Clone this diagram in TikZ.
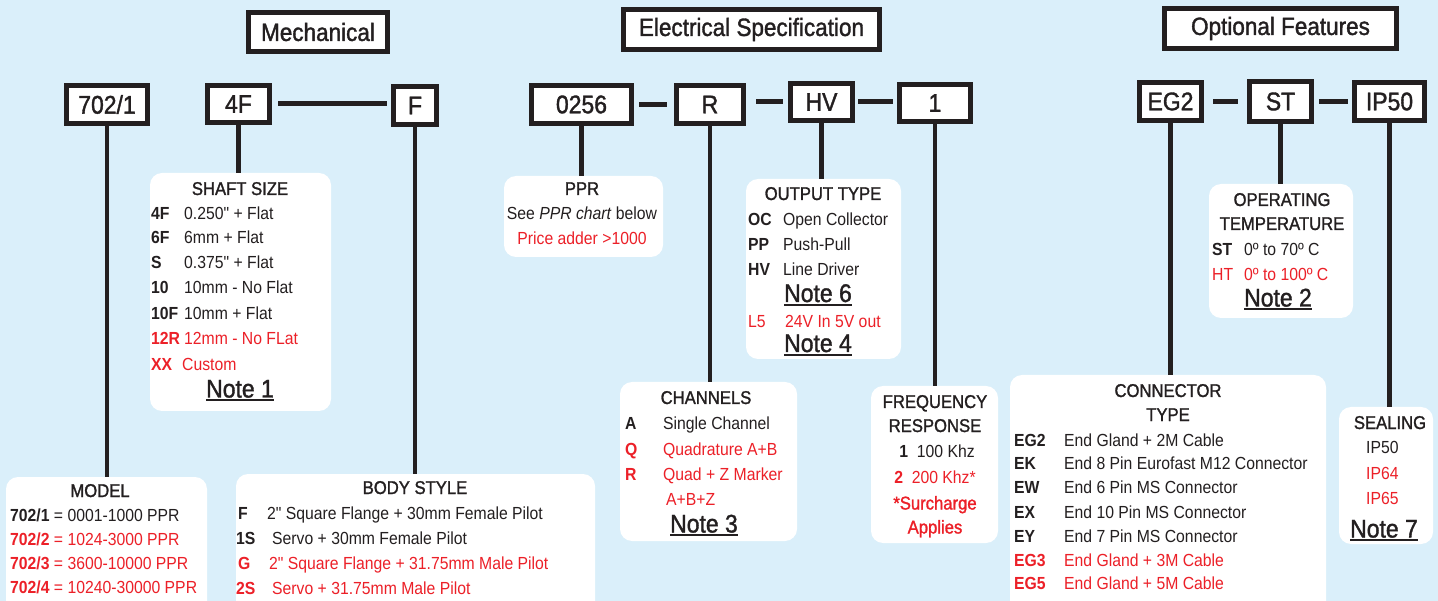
\documentclass[tikz,border=0pt]{standalone}
\usepackage{fontspec}
\setmainfont{Liberation Sans}[FakeStretch=0.9, Ligatures=TeXOff]
\newfontfamily\titlefam{Liberation Sans}[FakeStretch=0.9, Ligatures=TeXOff, RawFeature={embolden=1.4}]
\definecolor{bg}{RGB}{218,239,250}
\definecolor{ink}{RGB}{35,31,32}
\definecolor{rd}{RGB}{236,32,40}
\newcommand\noteul[1]{\setbox0=\hbox{#1}\rlap{\raisebox{-3.6pt}{\rule{\wd0}{1.8pt}}}\box0}
\tikzset{
 cbox/.style={draw=ink, line width=5pt, fill=white, inner sep=0pt, outer sep=2.5pt, text=ink, font=\fontsize{25.5}{28}\selectfont\titlefam},
 hbox/.style={cbox, font=\fontsize{25}{28}\selectfont\titlefam},
 wbox/.style={fill=white, rounded corners=12pt, inner sep=0pt, outer sep=0pt},
 stem/.style={draw=ink, line width=4.5pt},
 joiner/.style={draw=ink, line width=5pt},
 ttl/.style={inner sep=0pt, text=ink, font=\fontsize{18.5}{21}\selectfont\titlefam, anchor=base},
 codetxt/.style={inner sep=0pt, font=\fontsize{17.5}{20}\selectfont\bfseries, anchor=base west},
 desctxt/.style={inner sep=0pt, font=\fontsize{17.5}{20}\selectfont, anchor=base west},
 ctrtxt/.style={inner sep=0pt, font=\fontsize{17.5}{20}\selectfont, anchor=base},
 notetxt/.style={inner sep=0pt, text=ink, font=\fontsize{25.5}{28}\selectfont\titlefam, anchor=base},
}
% name, xcode, xdesc, baseline, colour, code, description
\newcommand\crow[7]{%
 \node[codetxt, text=#5] (#1c) at (#2,#4) {#6};
 \node[desctxt, text=#5] (#1d) at (#3,#4) {#7};}
\begin{document}
\begin{tikzpicture}[x=1pt,y=-1pt]
\useasboundingbox (0,0) rectangle (1438,601);
\clip (0,0) rectangle (1438,601);
\fill[bg] (0,0) rectangle (1438,601);

% section headers
\node[hbox, minimum width=139, minimum height=39] (hmech) at (318,32) {Mechanical};
\node[hbox, minimum width=256, minimum height=40] (helec) at (751.5,29.5) {Electrical Specification};
\node[hbox, minimum width=232, minimum height=40] (hopt) at (1280.5,28.5) {Optional Features};

% code boxes
\node[cbox, minimum width=81, minimum height=38] (m702) at (107,104.5) {702/1};
\node[cbox, minimum width=62, minimum height=37] (b4F) at (238.5,104) {4F};
\node[cbox, minimum width=43, minimum height=38] (bF) at (415,105.5) {F};
\node[cbox, minimum width=100, minimum height=38] (b0256) at (581.5,104.5) {0256};
\node[cbox, minimum width=67, minimum height=38] (bR) at (710,104.5) {R};
\node[cbox, minimum width=62, minimum height=37] (bHV) at (821.5,102) {HV};
\node[cbox, minimum width=71, minimum height=37] (b1) at (935,103) {1};
\node[cbox, minimum width=62, minimum height=38] (bEG2) at (1170.5,101.5) {EG2};
\node[cbox, minimum width=62, minimum height=40] (bST) at (1280.5,101.5) {ST};
\node[cbox, minimum width=70, minimum height=38] (bIP) at (1389.5,101.5) {IP50};

% joiners (horizontal)
\draw[joiner, shorten <=6pt, shorten >=4pt] (b4F.east) -- (b4F.east -| bF.west);
\draw[joiner, shorten <=5pt, shorten >=7pt] (b0256.east) -- (b0256.east -| bR.west);
\draw[joiner, shorten <=10pt, shorten >=5pt] (bR.east |- bHV.west) -- (bHV.west);
\draw[joiner, shorten <=3pt, shorten >=4pt] (bHV.east) -- (bHV.east -| b1.west);
\draw[joiner, shorten <=9pt, shorten >=9pt] (bEG2.east) -- (bEG2.east -| bST.west);
\draw[joiner, shorten <=5pt, shorten >=4pt] (bST.east) -- (bST.east -| bIP.west);

% white option boxes
\node[wbox, minimum width=181, minimum height=238] (shaft) at (240.5,292) {};
\node[wbox, minimum width=201, minimum height=143] (model) at (106.5,548.5) {};
\node[wbox, minimum width=359, minimum height=146] (body) at (415.5,547) {};
\node[wbox, minimum width=159, minimum height=81] (ppr) at (583.5,216.5) {};
\node[wbox, minimum width=155, minimum height=180] (output) at (823.5,269) {};
\node[wbox, minimum width=177, minimum height=159] (chan) at (708.5,461.5) {};
\node[wbox, minimum width=127, minimum height=157] (freq) at (934.5,464.5) {};
\node[wbox, minimum width=144, minimum height=134] (temp) at (1281,251) {};
\node[wbox, minimum width=316, minimum height=245] (conn) at (1168,497.5) {};
\node[wbox, minimum width=94, minimum height=137] (seal) at (1386,475.5) {};

% stems
\draw[stem] (m702.south) -- (m702.south |- model.north);
\draw[stem] (b4F.south) -- (b4F.south |- shaft.north);
\draw[stem] (bF.south) -- (bF.south |- body.north);
\draw[stem] (b0256.south) -- (b0256.south |- ppr.north);
\draw[stem] (bR.south) -- (bR.south |- chan.north);
\draw[stem] (bHV.south) -- (bHV.south |- output.north);
\draw[stem] (b1.south) -- (b1.south |- freq.north);
\draw[stem] (bEG2.south) -- (bEG2.south |- conn.north);
\draw[stem] (bST.south) -- (bST.south |- temp.north);
\draw[stem] (bIP.south) -- (bIP.south |- seal.north);

% SHAFT SIZE
\node[ttl] (shaftT) at (240,195) {SHAFT SIZE};
\crow{s1}{151}{184}{219.3}{ink}{4F}{0.250" + Flat}
\crow{s2}{151}{184}{244}{ink}{6F}{6mm + Flat}
\crow{s3}{151}{184}{268.7}{ink}{S}{0.375" + Flat}
\crow{s4}{151}{184}{293.7}{ink}{10}{10mm - No Flat}
\crow{s5}{151}{184}{319.3}{ink}{10F}{10mm + Flat}
\crow{s6}{151}{184}{345}{rd}{12R}{12mm - No FLat}
\crow{s7}{151}{182}{370.3}{rd}{XX}{Custom}
\node[notetxt] (n1) at (240,397.5) {\noteul{Note 1}};

% MODEL
\node[ttl] (modelT) at (100,497) {MODEL};
\node[desctxt, text=ink] (mo1) at (10,521.5) {\textbf{702/1} = 0001-1000 PPR};
\node[desctxt, text=rd] (mo2) at (10,545) {\textbf{702/2} = 1024-3000 PPR};
\node[desctxt, text=rd] (mo3) at (10,569.5) {\textbf{702/3} = 3600-10000 PPR};
\node[desctxt, text=rd] (mo4) at (10,593.5) {\textbf{702/4} = 10240-30000 PPR};

% BODY STYLE
\node[ttl] (bodyT) at (415,494) {BODY STYLE};
\crow{b1}{238}{267}{519.5}{ink}{F}{2" Square Flange + 30mm Female Pilot}
\crow{b2}{236}{272}{544.5}{ink}{1S}{Servo + 30mm Female Pilot}
\crow{b3}{238}{269}{569.5}{rd}{G}{2" Square Flange + 31.75mm Male Pilot}
\crow{b4}{236}{272}{594.5}{rd}{2S}{Servo + 31.75mm Male Pilot}

% PPR
\node[ttl] (pprT) at (582,195) {PPR};
\node[ctrtxt, text=ink] (ppr1) at (582,219.5) {See \textit{PPR chart} below};
\node[ctrtxt, text=rd] (ppr2) at (582,244.5) {Price adder >1000};

% OUTPUT TYPE
\node[ttl] (outT) at (823,200) {OUTPUT TYPE};
\crow{o1}{748}{783}{225.5}{ink}{OC}{Open Collector}
\crow{o2}{748}{783}{250.5}{ink}{PP}{Push-Pull}
\crow{o3}{748}{783}{275.5}{ink}{HV}{Line Driver}
\node[notetxt] (n6) at (818,302) {\noteul{Note 6}};
\node[desctxt, text=rd] (o4c) at (748,327.5) {L5};
\node[desctxt, text=rd] (o4d) at (785,327.5) {24V In 5V out};
\node[notetxt] (n4) at (818,352) {\noteul{Note 4}};

% CHANNELS
\node[ttl] (chanT) at (706,404) {CHANNELS};
\crow{c1}{625}{663}{429.5}{ink}{A}{Single Channel}
\crow{c2}{625}{663}{455}{rd}{Q}{Quadrature A+B}
\crow{c3}{625}{663}{480}{rd}{R}{Quad + Z Marker}
\node[desctxt, text=rd] (c4) at (666,505.5) {A+B+Z};
\node[notetxt] (n3) at (704,532.5) {\noteul{Note 3}};

% FREQUENCY RESPONSE
\node[ttl] (freqT1) at (935,408) {FREQUENCY};
\node[ttl] (freqT2) at (935,432) {RESPONSE};
\node[ctrtxt, text=ink] (f1) at (937,457.5) {\textbf{1}\enspace 100 Khz};
\node[ctrtxt, text=rd] (f2) at (935,483.5) {\textbf{2}\enspace 200 Khz*};
\node[ttl, text=rd] (f3) at (935,509.5) {*Surcharge};
\node[ttl, text=rd] (f4) at (935,533.5) {Applies};

% OPERATING TEMPERATURE
\node[ttl] (tempT1) at (1282,206) {OPERATING};
\node[ttl] (tempT2) at (1282,230) {TEMPERATURE};
\crow{t1}{1212}{1244}{255.5}{ink}{ST}{0º to 70º C}
\node[desctxt, text=rd] (t2c) at (1212,280.5) {HT};
\node[desctxt, text=rd] (t2d) at (1244,280.5) {0º to 100º C};
\node[notetxt] (n2) at (1278,306.5) {\noteul{Note 2}};

% CONNECTOR TYPE
\node[ttl] (connT1) at (1168,397) {CONNECTOR};
\node[ttl] (connT2) at (1168,421) {TYPE};
\crow{k1}{1014}{1064}{446.5}{ink}{EG2}{End Gland + 2M Cable}
\crow{k2}{1014}{1064}{469.5}{ink}{EK}{End 8 Pin Eurofast M12 Connector}
\crow{k3}{1014}{1064}{493.5}{ink}{EW}{End 6 Pin MS Connector}
\crow{k4}{1014}{1064}{518.5}{ink}{EX}{End 10 Pin MS Connector}
\crow{k5}{1014}{1064}{542.5}{ink}{EY}{End 7 Pin MS Connector}
\crow{k6}{1014}{1064}{566.5}{rd}{EG3}{End Gland + 3M Cable}
\crow{k7}{1014}{1064}{589.5}{rd}{EG5}{End Gland + 5M Cable}

% SEALING
\node[ttl] (sealT) at (1390,429) {SEALING};
\node[desctxt, text=ink] (se1) at (1366,453.5) {IP50};
\node[desctxt, text=rd] (se2) at (1366,479) {IP64};
\node[desctxt, text=rd] (se3) at (1366,504) {IP65};
\node[notetxt] (n7) at (1384,537.5) {\noteul{Note 7}};
\end{tikzpicture}
\end{document}
